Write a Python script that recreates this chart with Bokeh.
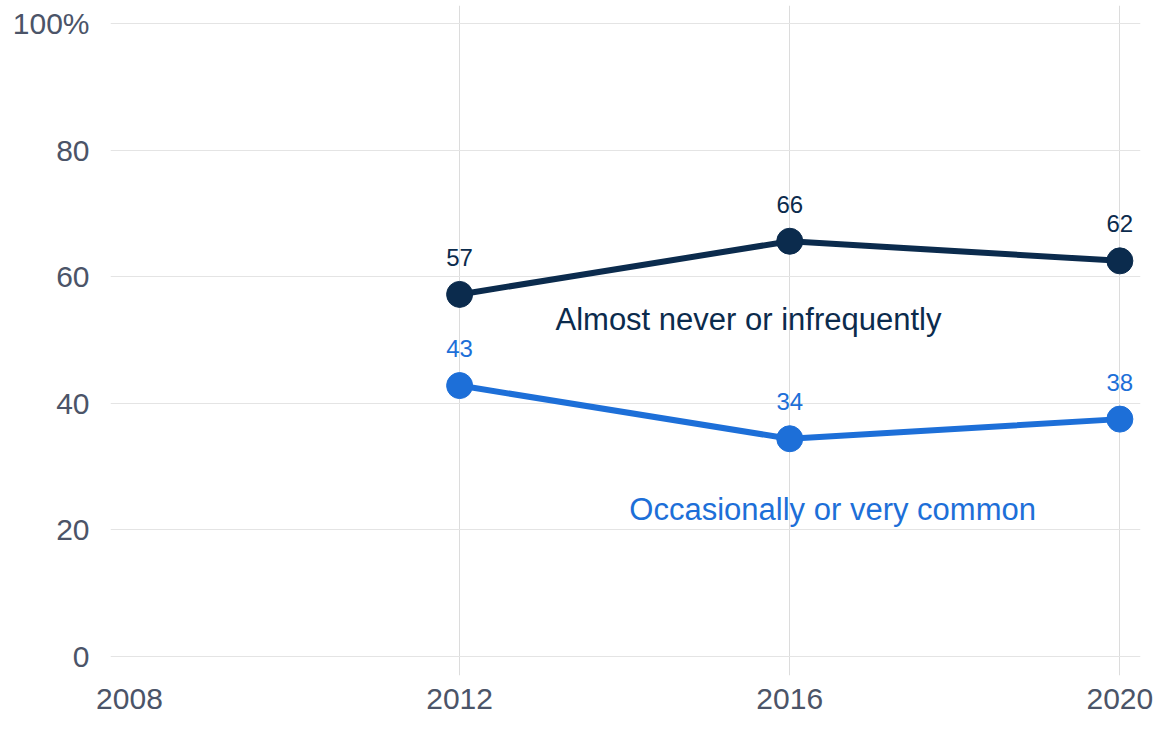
from bokeh.plotting import figure
from bokeh.models import FixedTicker, ColumnDataSource, Range1d
from bokeh.core.properties import value
from bokeh.embed import file_html
from bokeh.resources import INLINE

years = [2012, 2016, 2020]
infrequent = [57.2, 65.6, 62.5]
common = [42.8, 34.4, 37.5]
infrequent_labels = ["57", "66", "62"]
common_labels = ["43", "34", "38"]
x_ticks = [2008, 2012, 2016, 2020]
y_ticks = [0, 20, 40, 60, 80, 100]
series_names = ["Almost never or infrequently", "Occasionally or very common"]

NAVY = "#0b2b4d"
BLUE = "#1d6fd8"
TICK = "#4b5468"
FONT = "Liberation Sans"

p = figure(width=1159, height=723, output_backend="svg", toolbar_location=None,
           x_range=Range1d(2007.77, 2020.25), y_range=Range1d(-3.0, 102.84),
           min_border_left=110, min_border_right=19, min_border_top=5, min_border_bottom=48)
p.outline_line_color = None

p.xaxis.ticker = FixedTicker(ticks=x_ticks)
p.yaxis.ticker = FixedTicker(ticks=y_ticks)
p.yaxis.major_label_overrides = {100: "100%"}
for ax in (p.xaxis[0], p.yaxis[0]):
    ax.axis_line_color = None
    ax.major_tick_line_color = None
    ax.minor_tick_line_color = None
    ax.major_tick_out = 0
    ax.major_tick_in = 0
    ax.minor_tick_out = 0
    ax.minor_tick_in = 0
    ax.major_label_text_font = FONT
    ax.major_label_text_font_size = "30px"
    ax.major_label_text_color = TICK
p.yaxis.major_label_standoff = 21
p.xaxis.major_label_standoff = 13

p.xgrid.ticker = FixedTicker(ticks=years)
p.xgrid.grid_line_color = "#dcdcdc"
p.xgrid.grid_line_width = 1
p.ygrid.ticker = FixedTicker(ticks=y_ticks)
p.ygrid.grid_line_color = "#e4e4e4"
p.ygrid.grid_line_width = 1

src1 = ColumnDataSource(dict(x=years, y=infrequent, t=infrequent_labels))
src2 = ColumnDataSource(dict(x=years, y=common, t=common_labels))

for src, col in ((src1, NAVY), (src2, BLUE)):
    p.line("x", "y", source=src, line_color=col, line_width=6)
    p.scatter("x", "y", source=src, size=26, fill_color=col, line_color=col)
    p.text("x", "y", text="t", source=src, text_color=col, text_font=value(FONT),
           text_font_size="24px", text_align="center", text_baseline="middle", y_offset=-37)

p.text(x=[2015.5], y=[53.2], text=[series_names[0]], text_color=NAVY, text_font=value(FONT),
       text_font_size="31px", text_align="center", text_baseline="alphabetic")
p.text(x=[2016.52], y=[23.2], text=[series_names[1]], text_color=BLUE, text_font=value(FONT),
       text_font_size="31px", text_align="center", text_baseline="alphabetic")

open("out.html", "w").write(file_html(p, INLINE))
